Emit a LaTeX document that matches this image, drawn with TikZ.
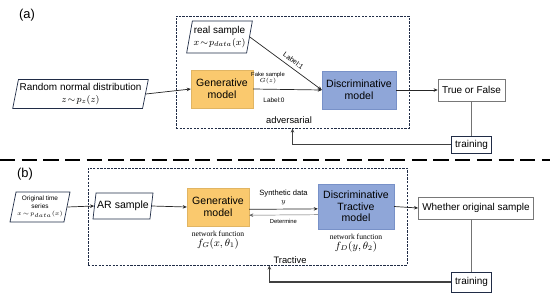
\documentclass[tikz,border=0pt]{standalone}
\usepackage{fontspec}
\setmainfont{Liberation Sans}
\newfontfamily\seriffont{Liberation Serif}
\usetikzlibrary{shapes.geometric, arrows.meta, positioning, calc}

\definecolor{genfill}{RGB}{250,201,110}
\definecolor{discfill}{RGB}{143,166,216}
\definecolor{discline}{RGB}{120,145,200}
\definecolor{boxline}{RGB}{32,44,70}
\definecolor{outgray}{RGB}{120,120,120}

\tikzset{
  datain/.style={trapezium, trapezium left angle=76, trapezium right angle=104,
    trapezium stretches body, draw=boxline, line width=0.6pt, align=center, inner sep=1pt},
  genbox/.style={rectangle, fill=genfill, draw=genfill!90!black, line width=0.3pt,
    minimum width=1.86cm, minimum height=1.14cm, align=center, font=\fontsize{9}{10}\selectfont},
  discbox/.style={rectangle, fill=discfill, draw=discline, line width=0.3pt,
    align=center, font=\fontsize{9}{10}\selectfont},
  outbox/.style={rectangle, draw=outgray, line width=0.5pt, align=center,
    font=\fontsize{8.5}{10}\selectfont},
  trainbox/.style={rectangle, draw=boxline, line width=0.6pt, minimum width=1.17cm,
    minimum height=0.51cm, font=\fontsize{8.5}{10}\selectfont},
  groupbox/.style={rectangle, draw=boxline, line width=0.8pt, dash pattern=on 2pt off 1pt},
  flow/.style={->, line width=0.6pt, draw=black!85},
  back/.style={line width=1pt, draw=black!55},
  tiny/.style={font=\fontsize{5}{6}\selectfont, align=center},
  netfn/.style={font=\seriffont\fontsize{6.5}{7}\selectfont, align=center}
}

\begin{document}
\begin{tikzpicture}[x=0.03cm, y=-0.03cm, >={Stealth[length=3.5pt,width=3pt]}]
\useasboundingbox (0,0) rectangle (550,296);

% part (a)
\node[font=\fontsize{11}{12}\selectfont] (laba) at (27,15) {(a)};
\node[groupbox, minimum width=6.99cm, minimum height=3.36cm] (adv) at (292.5,72) {};
\node[font=\fontsize{8}{9}\selectfont] (advtext) at (289,120) {adversarial};

\node[datain, minimum width=4.05cm, minimum height=0.87cm, font=\fontsize{8.5}{9.5}\selectfont] (noise) at (80.5,94)
  {Random normal distribution\\$z\!\sim\! p_z(z)$};
\node[datain, minimum width=1.95cm, minimum height=0.96cm, font=\fontsize{8.5}{9.5}\selectfont] (real) at (219.5,37)
  {real sample\\$x\!\sim\! p_{data}(x)$};
\node[genbox] (gena) at (222,89) {Generative\\model};
\node[discbox, minimum width=2.22cm, minimum height=1.14cm] (disca) at (359,90) {Discriminative\\model};
\node[outbox, minimum width=2.01cm, minimum height=0.66cm] (tf) at (471.5,90) {True or False};
\node[trainbox] (traina) at (471.5,144.5) {training};

\draw[flow] (noise.east) -- (gena.west);
\draw[flow] (gena.east) -- (disca.west);
\draw[flow] (real.east) -- node[font=\fontsize{6}{7}\selectfont, sloped, above, pos=0.55] {Label:1} (disca.west);
\node[tiny] (fake) at (268,78) {Fake sample\\[-1pt]$G(z)$};
\node[font=\fontsize{5.5}{6}\selectfont] (lab0) at (274,100) {Label:0};
\draw[flow] (disca.east) -- (tf.west);
\draw[back] (tf.south) -- (traina.north);
\draw[back, ->, draw=black!75] (traina.west) -| (adv.south);

% separator
\coordinate (sepl) at (0,160);
\coordinate (sepr) at (550,160);
\draw[line width=2pt, dash pattern=on 13pt off 5.5pt] (sepl) -- (sepr);

% part (b)
\node[font=\fontsize{11}{12}\selectfont] (labb) at (25,174) {(b)};
\node[groupbox, minimum width=9.57cm, minimum height=2.91cm] (trac) at (247.5,216.5) {};
\node[font=\fontsize{8}{9}\selectfont] (tractext) at (290,260) {Tractive};

\node[datain, minimum width=1.8cm, minimum height=0.9cm, font=\fontsize{5.5}{6.5}\selectfont] (orig) at (40,207)
  {Original time\\series\\$x\!\sim\! p_{data}(x)$};
\node[datain, minimum width=1.8cm, minimum height=0.78cm, font=\fontsize{9}{10}\selectfont] (ar) at (123,206) {AR sample};
\node[genbox] (genb) at (218,207) {Generative\\model};
\node[netfn, below=1pt of genb] (fng) {network function\\[1pt]{\fontsize{9}{10}\selectfont$f_G(x,\theta_1)$}};
\node[discbox, minimum width=2.28cm, minimum height=1.35cm] (discb) at (356,206.5) {Discriminative\\Tractive\\model};
\node[netfn, below=1pt of discb] (fnd) {network function\\[1pt]{\fontsize{9}{10}\selectfont$f_D(y,\theta_2)$}};
\node[outbox, minimum width=3.24cm, minimum height=0.66cm] (whether) at (476,208) {Whether original sample};
\node[trainbox, minimum height=0.6cm] (trainb) at (471.5,282) {training};

\draw[flow] (orig.east) -- (ar.west);
\draw[flow] (ar.east) -- (genb.west);
\draw[flow] ([yshift=-2pt]genb.east) -- node[font=\fontsize{6.5}{7}\selectfont, above, align=center] {Synthetic data\\$y$} ([yshift=-2pt]discb.west);
\draw[flow, line width=0.4pt, draw=black!60] ([yshift=-7pt]discb.west) -- node[font=\fontsize{5}{6}\selectfont, below] {Determine} ([yshift=-7pt]genb.east);
\draw[flow] (discb.east) -- (whether.west);
\draw[back] (trainb.north) -- (trainb.north |- whether.south);
\draw[back, ->, draw=black!75] (trainb.west) -| (trac.south -| tractext.west);
\end{tikzpicture}
\end{document}
